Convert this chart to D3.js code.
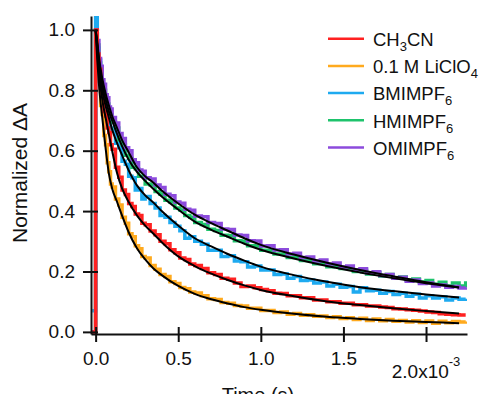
<!DOCTYPE html>
<html>
<head>
<meta charset="utf-8">
<script src="https://cdn.jsdelivr.net/npm/d3@7"></script>
<style>
  body { margin: 0; background: #fff; }
  text { font-family: "Liberation Sans", Arial, sans-serif; fill: #111; }
</style>
</head>
<body>
<div id="chart"></div>
<script>
// time in ms (axis reads x10^-3 s)
const timeMs = [
  -0.02, 0, 0.01, 0.02, 0.03, 0.04, 0.05, 0.06, 0.07, 0.08, 0.09, 0.10,
  0.12, 0.14, 0.16, 0.18, 0.20, 0.22, 0.24, 0.26, 0.28, 0.30,
  0.33, 0.36, 0.39, 0.42, 0.45, 0.48, 0.51, 0.54, 0.57, 0.60,
  0.64, 0.68, 0.72, 0.76, 0.80, 0.84, 0.88, 0.92, 0.96, 1.00,
  1.04, 1.08, 1.12, 1.16, 1.20, 1.24, 1.28, 1.32, 1.36, 1.40,
  1.44, 1.48, 1.52, 1.56, 1.60, 1.64, 1.68, 1.72, 1.76, 1.80,
  1.84, 1.88, 1.92, 1.96, 2.00, 2.04, 2.08, 2.12, 2.16, 2.20,
  2.24
];

const ch3cn = [
  0, 1.0, 0.92, 0.87, 0.80, 0.78, 0.73, 0.715, 0.675, 0.66, 0.62, 0.605,
  0.545, 0.512, 0.47, 0.455, 0.425, 0.415, 0.39, 0.385, 0.36, 0.355,
  0.334, 0.322, 0.3, 0.292, 0.272, 0.262, 0.245, 0.24, 0.225, 0.22,
  0.21, 0.196, 0.19, 0.178, 0.174, 0.162, 0.15, 0.152, 0.146, 0.14,
  0.136, 0.128, 0.127, 0.12, 0.12, 0.113, 0.113, 0.106, 0.106, 0.1,
  0.1, 0.095, 0.095, 0.09, 0.09, 0.086, 0.086, 0.082, 0.081, 0.077,
  0.076, 0.073, 0.072, 0.069, 0.066, 0.064, 0.06, 0.058, 0.057, 0.056,
  0.056
];

const liclo4 = [
  0, 1.0, 0.89, 0.83, 0.75, 0.72, 0.65, 0.62, 0.56, 0.53, 0.49, 0.48,
  0.44, 0.42, 0.38, 0.36, 0.325, 0.315, 0.285, 0.275, 0.25, 0.245,
  0.22, 0.207, 0.19, 0.183, 0.166, 0.16, 0.147, 0.143, 0.132, 0.129,
  0.12, 0.11, 0.107, 0.097, 0.095, 0.087, 0.086, 0.078, 0.078, 0.071,
  0.071, 0.064, 0.066, 0.058, 0.061, 0.055, 0.057, 0.052, 0.053, 0.048,
  0.05, 0.044, 0.047, 0.041, 0.045, 0.038, 0.043, 0.037, 0.041, 0.035,
  0.038, 0.033, 0.037, 0.031, 0.036, 0.029, 0.035, 0.03, 0.034, 0.033,
  0.034
];

const bmimpf6 = [
  0.07, 1.05, 0.94, 0.90, 0.83, 0.81, 0.76, 0.75, 0.715, 0.71, 0.675, 0.665,
  0.625, 0.61, 0.565, 0.555, 0.515, 0.51, 0.47, 0.475, 0.44, 0.448,
  0.425, 0.41, 0.385, 0.38, 0.362, 0.35, 0.335, 0.31, 0.315, 0.3,
  0.29, 0.27, 0.27, 0.25, 0.252, 0.235, 0.232, 0.215, 0.218, 0.205,
  0.205, 0.19, 0.192, 0.178, 0.183, 0.17, 0.172, 0.162, 0.165, 0.152,
  0.158, 0.148, 0.15, 0.132, 0.146, 0.136, 0.138, 0.128, 0.134, 0.124,
  0.128, 0.118, 0.125, 0.112, 0.12, 0.112, 0.116, 0.106, 0.112, 0.108,
  0.11
];

const hmimpf6 = [
  0, 1.0, 0.95, 0.89, 0.865, 0.815, 0.80, 0.765, 0.755, 0.725, 0.72, 0.695,
  0.675, 0.635, 0.62, 0.585, 0.575, 0.545, 0.54, 0.515, 0.515, 0.49,
  0.486, 0.465, 0.456, 0.436, 0.43, 0.41, 0.404, 0.385, 0.38, 0.362,
  0.356, 0.34, 0.336, 0.32, 0.318, 0.302, 0.3, 0.285, 0.284, 0.27,
  0.27, 0.258, 0.258, 0.246, 0.248, 0.236, 0.236, 0.226, 0.226, 0.216,
  0.218, 0.21, 0.21, 0.2, 0.204, 0.192, 0.196, 0.185, 0.19, 0.178,
  0.182, 0.172, 0.175, 0.165, 0.17, 0.158, 0.164, 0.152, 0.162, 0.152,
  0.168
];

const omimpf6 = [
  0, 1.0, 0.965, 0.905, 0.88, 0.835, 0.82, 0.785, 0.775, 0.745, 0.738, 0.71,
  0.692, 0.657, 0.64, 0.61, 0.6, 0.57, 0.56, 0.536, 0.532, 0.51,
  0.506, 0.486, 0.478, 0.456, 0.451, 0.43, 0.426, 0.406, 0.403, 0.384,
  0.381, 0.362, 0.359, 0.341, 0.339, 0.321, 0.319, 0.302, 0.301, 0.284,
  0.285, 0.271, 0.272, 0.258, 0.26, 0.246, 0.248, 0.235, 0.238, 0.225,
  0.228, 0.215, 0.218, 0.206, 0.209, 0.196, 0.199, 0.187, 0.19, 0.178,
  0.181, 0.168, 0.172, 0.16, 0.162, 0.152, 0.155, 0.148, 0.15, 0.145,
  0.148
];

// fitted curves (black)
const fitTimeMs = [0, 0.01, 0.02, 0.04, 0.06, 0.08, 0.1, 0.13, 0.16, 0.2, 0.25, 0.3, 0.35,
  0.4, 0.5, 0.6, 0.7, 0.8, 0.9, 1.0, 1.2, 1.4, 1.6, 1.8, 2.0, 2.2];
const fitCh3cn = [1.0, 0.93, 0.86, 0.77, 0.71, 0.655, 0.60, 0.525, 0.475, 0.43, 0.386, 0.352, 0.325,
  0.297, 0.25, 0.218, 0.193, 0.172, 0.154, 0.139, 0.118, 0.101, 0.089, 0.078, 0.069, 0.061];
const fitLiclo4 = [1.0, 0.90, 0.82, 0.71, 0.61, 0.525, 0.475, 0.43, 0.385, 0.33, 0.277, 0.24, 0.21,
  0.188, 0.152, 0.126, 0.108, 0.094, 0.082, 0.073, 0.060, 0.050, 0.043, 0.037, 0.033, 0.029];
const fitBmim = [1.0, 0.95, 0.89, 0.80, 0.75, 0.71, 0.67, 0.625, 0.585, 0.535, 0.485, 0.452, 0.428,
  0.40, 0.352, 0.31, 0.283, 0.258, 0.236, 0.216, 0.188, 0.166, 0.148, 0.135, 0.124, 0.114];
const fitHmim = [1.0, 0.95, 0.90, 0.82, 0.77, 0.73, 0.70, 0.655, 0.615, 0.57, 0.53, 0.50, 0.473,
  0.448, 0.405, 0.365, 0.338, 0.315, 0.292, 0.272, 0.243, 0.218, 0.197, 0.178, 0.161, 0.147];
const fitOmim = [1.0, 0.96, 0.91, 0.84, 0.79, 0.75, 0.715, 0.675, 0.635, 0.595, 0.545, 0.515, 0.494,
  0.468, 0.425, 0.388, 0.36, 0.335, 0.31, 0.288, 0.256, 0.229, 0.205, 0.184, 0.164, 0.147];

// legend: [text, subscript, tail]
const legendNames = [['CH', '3', 'CN'], ['0.1 M LiClO', '4', ''], ['BMIMPF', '6', ''], ['HMIMPF', '6', ''], ['OMIMPF', '6', '']];
const colors = ['#ff2121', '#ffaa1e', '#1eaaf0', '#1ec36c', '#8c4bdc'];
const xTicks = [0, 0.5, 1.0, 1.5, 2.0];
const yTicks = [0, 0.2, 0.4, 0.6, 0.8, 1.0];

const W = 491, H = 394;
const svg = d3.select('#chart').append('svg').attr('width', W).attr('height', H);

const x = d3.scaleLinear().domain([-0.028, 2.248]).range([91, 467]);
const y = d3.scaleLinear().domain([-0.007, 1.046]).range([334, 16]);

svg.append('clipPath').attr('id', 'clip')
  .append('rect').attr('x', 91).attr('y', 16).attr('width', 376).attr('height', 318);

const plot = svg.append('g').attr('clip-path', 'url(#clip)');

const dataLine = vals => d3.line()
  .x((d, i) => x(timeMs[i]))
  .y(d => y(d))
  .curve(d3.curveStepAfter)(vals);

// draw order: red ends on top at the rise
const series = [liclo4, bmimpf6, hmimpf6, omimpf6, ch3cn];
const seriesColors = [colors[1], colors[2], colors[3], colors[4], colors[0]];
series.forEach((vals, k) => {
  plot.append('path')
    .attr('d', dataLine(vals))
    .attr('fill', 'none')
    .attr('stroke', seriesColors[k])
    .attr('stroke-width', 3.5);
});

const fitLine = d3.line()
  .x((d, i) => x(fitTimeMs[i]))
  .y(d => y(d))
  .curve(d3.curveMonotoneX);

[fitCh3cn, fitLiclo4, fitBmim, fitHmim, fitOmim].forEach(vals => {
  plot.append('path')
    .attr('d', fitLine(vals))
    .attr('fill', 'none')
    .attr('stroke', '#000')
    .attr('stroke-width', 2);
});

// y axis
const yAxis = svg.append('g')
  .attr('transform', 'translate(91,0)')
  .call(d3.axisLeft(y).tickValues(yTicks).tickFormat(d3.format('.1f')).tickSizeInner(8).tickSizeOuter(0).tickPadding(8));
yAxis.select('.domain').attr('stroke', '#111').attr('stroke-width', 2);
yAxis.selectAll('.tick line').attr('x1', 7).attr('stroke', '#111').attr('stroke-width', 2);
yAxis.selectAll('.tick text').style('font-size', '19px').attr('fill', '#111');

// x axis
const xAxis = svg.append('g')
  .attr('transform', 'translate(0,334)')
  .call(d3.axisBottom(x).tickValues(xTicks).tickFormat(d => d === 2 ? '' : d3.format('.1f')(d))
    .tickSizeInner(8).tickSizeOuter(0).tickPadding(10));
xAxis.select('.domain').attr('stroke', '#111').attr('stroke-width', 2);
xAxis.selectAll('.tick line').attr('y1', -7).attr('stroke', '#111').attr('stroke-width', 2);
xAxis.selectAll('.tick text').style('font-size', '19px').attr('fill', '#111');

const expLabel = svg.append('text')
  .attr('x', x(2.0))
  .attr('y', 378)
  .attr('text-anchor', 'middle')
  .style('font-size', '19px');
expLabel.append('tspan').text('2.0x10');
expLabel.append('tspan').attr('dy', -12).style('font-size', '13px').text('-3');

// axis titles
svg.append('text')
  .attr('transform', 'translate(27,173) rotate(-90)')
  .attr('text-anchor', 'middle')
  .style('font-size', '21px')
  .text('Normalized \u0394A');

svg.append('text')
  .attr('x', 258)
  .attr('y', 402)
  .attr('text-anchor', 'middle')
  .style('font-size', '20px')
  .text('Time (s)');

// legend
const legend = svg.append('g');
legendNames.forEach((parts, i) => {
  const ly = 38.7 + i * 27.2;
  legend.append('line')
    .attr('x1', 328).attr('x2', 364)
    .attr('y1', ly).attr('y2', ly)
    .attr('stroke', colors[i])
    .attr('stroke-width', 2.5);
  const t = legend.append('text')
    .attr('x', 373)
    .attr('y', ly + 7.3)
    .style('font-size', '18.5px');
  t.append('tspan').text(parts[0]);
  t.append('tspan').attr('dy', 5).style('font-size', '13px').text(parts[1]);
  if (parts[2]) t.append('tspan').attr('dy', -5).text(parts[2]);
});
</script>
</body>
</html>
